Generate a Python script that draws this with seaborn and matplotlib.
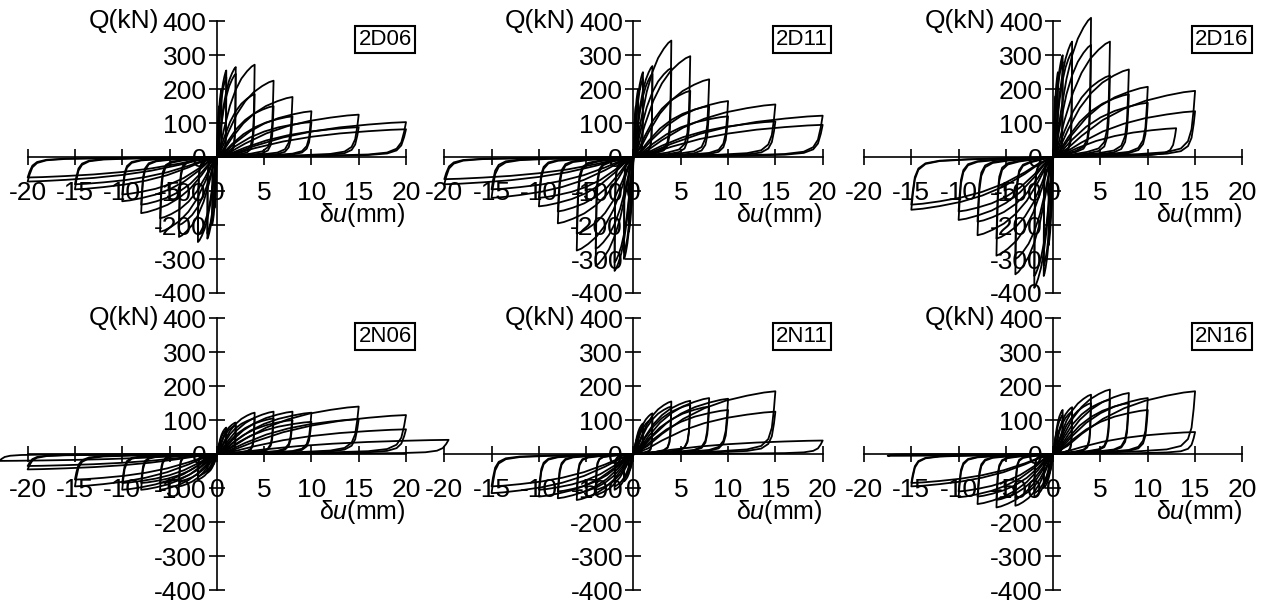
import numpy as np
import pandas as pd
import matplotlib
matplotlib.use('Agg')
import matplotlib.pyplot as plt
import seaborn as sns

# specimen names, one panel each
names = ['2D06', '2D11', '2D16', '2N06', '2N11', '2N16']

x_ticks = [-20, -15, -10, -5, 0, 5, 10, 15, 20]
y_ticks = [-400, -300, -200, -100, 0, 100, 200, 300, 400]

# half cycles: target displacement (mm) and peak load (kN)
d06_pos_amp = [0.25, 0.5, 1, 1, 2, 2, 4, 4, 6, 6, 8, 8, 10, 10, 15, 15, 20, 20]
d06_pos_q = [150, 200, 255, 235, 265, 245, 272, 185, 225, 150, 177, 120, 135, 103, 125, 88, 103, 82]
d06_neg_amp = [-0.25, -0.5, -1, -1, -2, -2, -4, -4, -6, -6, -8, -8, -10, -10, -15, -15, -20, -20]
d06_neg_q = [-150, -200, -240, -225, -250, -230, -235, -200, -220, -180, -165, -140, -130, -110, -95, -80, -72, -60]

d11_pos_amp = [0.25, 0.5, 1, 1, 2, 2, 4, 4, 6, 6, 8, 8, 10, 10, 15, 15, 20, 20]
d11_pos_q = [150, 200, 250, 230, 268, 245, 343, 262, 297, 195, 229, 150, 165, 120, 155, 105, 122, 95]
d11_neg_amp = [-0.25, -0.5, -1, -1, -2, -2, -4, -4, -6, -6, -8, -8, -10, -10, -15, -15, -20, -20]
d11_neg_q = [-150, -220, -300, -280, -335, -310, -320, -270, -275, -225, -195, -160, -145, -120, -120, -95, -80, -65]

d16_pos_amp = [0.25, 0.5, 1, 1, 2, 2, 4, 4, 6, 6, 8, 8, 10, 10, 13, 15, 15]
d16_pos_q = [180, 250, 300, 280, 340, 310, 410, 330, 340, 240, 258, 185, 207, 160, 85, 195, 135]
d16_neg_amp = [-0.25, -0.5, -1, -1, -2, -2, -4, -4, -6, -6, -8, -8, -10, -10, -15, -15]
d16_neg_q = [-170, -260, -350, -320, -385, -350, -345, -300, -290, -240, -230, -190, -185, -160, -155, -140]

n06_pos_amp = [0.5, 1, 1, 2, 2, 4, 4, 6, 6, 8, 8, 10, 10, 15, 15, 20, 20, 24.5]
n06_pos_q = [40, 78, 70, 93, 85, 122, 105, 125, 105, 125, 100, 122, 95, 140, 103, 115, 73, 42]
n06_neg_amp = [-0.5, -1, -1, -2, -2, -4, -4, -6, -6, -8, -8, -10, -10, -15, -15, -20, -20, -23]
n06_neg_q = [-35, -55, -50, -75, -65, -95, -80, -105, -85, -105, -85, -105, -85, -95, -75, -45, -35, -20]

n11_pos_amp = [0.5, 1, 1, 2, 2, 4, 4, 6, 6, 8, 8, 10, 10, 15, 15, 20]
n11_pos_q = [50, 90, 80, 120, 105, 155, 140, 157, 145, 165, 140, 163, 130, 185, 125, 40]
n11_neg_amp = [-0.5, -1, -1, -2, -2, -4, -4, -6, -6, -8, -8, -10, -10, -15, -15]
n11_neg_q = [-50, -80, -70, -105, -95, -120, -105, -135, -115, -130, -110, -125, -105, -115, -95]

n16_pos_amp = [0.5, 1, 1, 2, 2, 4, 4, 6, 6, 8, 8, 10, 10, 15, 15]
n16_pos_q = [70, 130, 115, 138, 125, 175, 150, 190, 160, 180, 150, 165, 130, 185, 65]
n16_neg_amp = [-0.5, -1, -1, -2, -2, -4, -4, -6, -6, -8, -8, -10, -10, -15, -15, -17.5]
n16_neg_q = [-60, -100, -90, -127, -115, -152, -130, -157, -135, -147, -125, -127, -110, -95, -85, -5]

# normalised outline of one half loop (fraction of target disp / peak load)
loop_u = [0, 0.1, 0.2, 0.35, 0.5, 0.65, 0.8, 0.92, 1.0,
          0.99, 0.975, 0.95, 0.9, 0.8, 0.6, 0.3, 0.0]
loop_v = [0, 0.13, 0.32, 0.56, 0.73, 0.85, 0.93, 0.98, 1.0,
          0.72, 0.42, 0.24, 0.13, 0.075, 0.045, 0.02, 0.0]

panel_data = {
    '2D06': (d06_pos_amp, d06_pos_q, d06_neg_amp, d06_neg_q),
    '2D11': (d11_pos_amp, d11_pos_q, d11_neg_amp, d11_neg_q),
    '2D16': (d16_pos_amp, d16_pos_q, d16_neg_amp, d16_neg_q),
    '2N06': (n06_pos_amp, n06_pos_q, n06_neg_amp, n06_neg_q),
    '2N11': (n11_pos_amp, n11_pos_q, n11_neg_amp, n11_neg_q),
    '2N16': (n16_pos_amp, n16_pos_q, n16_neg_amp, n16_neg_q),
}


def loops_frame(pos_amp, pos_q, neg_amp, neg_q):
    rows = []
    cyc = 0
    for amps, qs in [(pos_amp, pos_q), (neg_amp, neg_q)]:
        for d, q in zip(amps, qs):
            for k, (u, v) in enumerate(zip(loop_u, loop_v)):
                rows.append((cyc, k, u * d, v * q))
            cyc += 1
    return pd.DataFrame(rows, columns=['cyc', 'k', 'x', 'y'])


sns.set_style('white')
plt.rcParams['font.family'] = ['Liberation Sans Narrow', 'Liberation Sans', 'DejaVu Sans']
plt.rcParams['axes.unicode_minus'] = False
plt.rcParams['mathtext.fontset'] = 'custom'
plt.rcParams['mathtext.it'] = 'Liberation Sans:italic'
plt.rcParams['mathtext.rm'] = 'Liberation Sans'
plt.rcParams['text.color'] = 'black'
plt.rcParams['xtick.color'] = 'black'
plt.rcParams['ytick.color'] = 'black'

fig = plt.figure(figsize=(12.68, 6.08), dpi=100)

lefts = [0.0218, 0.3504, 0.6814]
bottoms = [0.5181, 0.0296]

for i, name in enumerate(names):
    ax = fig.add_axes([lefts[i % 3], bottoms[i // 3], 0.2984, 0.4470])
    df = loops_frame(*panel_data[name])
    sns.lineplot(data=df, x='x', y='y', units='cyc', estimator=None, sort=False,
                 color='black', linewidth=1.3, ax=ax, legend=False, clip_on=False)

    ax.set_xlim(-20, 20)
    ax.set_ylim(-400, 400)
    ax.patch.set_visible(False)
    ax.spines['left'].set_position(('data', 0))
    ax.spines['bottom'].set_position(('data', 0))
    ax.spines['right'].set_visible(False)
    ax.spines['top'].set_visible(False)
    for s in ['left', 'bottom']:
        ax.spines[s].set_linewidth(1.2)
        ax.spines[s].set_color('black')
        ax.spines[s].set_zorder(3)
    ax.set_xticks(x_ticks)
    ax.set_yticks(y_ticks)
    ax.tick_params(bottom=True, left=True, direction='inout', length=11, width=1.2,
                   labelsize=19, color='black', labelcolor='black')
    ax.tick_params(axis='x', pad=12)
    ax.tick_params(axis='y', pad=2)
    ax.set_xlabel('')
    ax.set_ylabel('')

    ax.annotate('Q(kN)', xy=(0, 400), xytext=(-58, 0), textcoords='offset pixels',
                ha='right', va='center', fontsize=19)
    ax.annotate('δ$u$(mm)', xy=(20, 0), xytext=(0, -58), textcoords='offset pixels',
                ha='right', va='center', fontsize=18)
    ax.text(0.945, 0.933, name, transform=ax.transAxes, ha='center', va='center',
            fontsize=16,
            bbox=dict(boxstyle='square,pad=0.15', fc='white', ec='black', lw=1.5))

fig.savefig('out.png', dpi=100)
